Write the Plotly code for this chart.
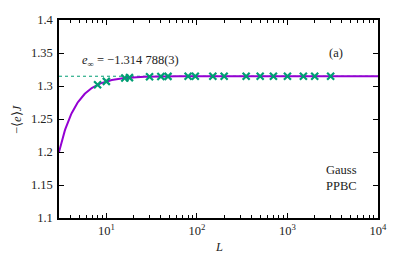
import numpy as np
import plotly.graph_objects as go

# Data
L_vals = [8, 10, 16, 18, 30, 40, 48, 80, 96, 150, 200, 350, 500, 700, 1000, 1500, 2000, 3000]
e_vals = [1.3019, 1.3070, 1.3120, 1.3127, 1.3141, 1.3144, 1.3146, 1.3147, 1.3147, 1.3148,
          1.3148, 1.3148, 1.3148, 1.3148, 1.3148, 1.3148, 1.3148, 1.3148]

# Fit curve parameters  e(L) = e_inf - a * L^(-p)
e_inf = 1.314788
fit_a = 1.33
fit_p = 2.23

x_tickvals = [10, 100, 1000, 10000]
x_ticktext = ["10<sup>1</sup>", "10<sup>2</sup>", "10<sup>3</sup>", "10<sup>4</sup>"]
y_tickvals = [1.1, 1.15, 1.2, 1.25, 1.3, 1.35, 1.4]
y_ticktext = ["1.1", "1.15", "1.2", "1.25", "1.3", "1.35", "1.4"]

FONT = "'Liberation Serif', 'Times New Roman', serif"
FS = 12.5
purple = "#9400d3"
green = "#009e73"

Lc = np.logspace(np.log10(3), 4, 400)
ec = e_inf - fit_a * Lc ** (-fit_p)

fig = go.Figure()
fig.add_trace(go.Scatter(x=[3, 10000], y=[e_inf, e_inf], mode="lines",
                         line=dict(color=green, width=1, dash="dot"), hoverinfo="skip"))
fig.add_trace(go.Scatter(x=Lc, y=ec, mode="lines", line=dict(color=purple, width=2)))
fig.add_trace(go.Scatter(x=L_vals, y=e_vals, mode="markers",
                         marker=dict(symbol="x-thin", size=7, line=dict(color=green, width=2.2))))

# page body has an 8px default margin, so the figure is sized to the visible area
fig.update_layout(
    width=387, height=249,
    margin=dict(l=51, r=17, t=5, b=39),
    paper_bgcolor="white", plot_bgcolor="white",
    showlegend=False,
    font=dict(family=FONT, size=FS, color="#222"),
)
fig.update_xaxes(type="log", range=[np.log10(3), 4],
                 tickvals=x_tickvals, ticktext=x_ticktext,
                 ticks="inside", ticklen=5, tickwidth=1, tickcolor="black",
                 showline=True, linecolor="black", linewidth=1.5, mirror="allticks",
                 showgrid=False, zeroline=False,
                 minor=dict(ticks="inside", ticklen=3, tickcolor="black", dtick="D1", showgrid=False),
                 tickfont=dict(family=FONT, size=FS))
fig.update_yaxes(range=[1.1, 1.4], tickvals=y_tickvals, ticktext=y_ticktext,
                 ticks="inside", ticklen=5, tickwidth=1, tickcolor="black",
                 showline=True, linecolor="black", linewidth=1.5, mirror="allticks",
                 showgrid=False, zeroline=False, ticklabelstandoff=2,
                 tickfont=dict(family=FONT, size=FS))

fig.add_annotation(x=0.5, y=-0.145, xref="paper", yref="paper", yanchor="middle",
                   text="<i>L</i>", showarrow=False, font=dict(family=FONT, size=FS))
fig.add_annotation(x=-0.16, y=0.5, xref="paper", yref="paper", textangle=-90,
                   text="−⟨<i>e</i>⟩<i>J</i>", showarrow=False, font=dict(family=FONT, size=FS))
fig.add_annotation(x=0.066, y=1.3375, xref="paper", yref="y", xanchor="left", yanchor="middle",
                   text="<i>e</i><sub>∞</sub> = −1.314 788(3)", showarrow=False,
                   font=dict(family=FONT, size=FS))
fig.add_annotation(x=0.895, y=0.88, xref="paper", yref="paper",
                   text="(a)", showarrow=False, font=dict(family=FONT, size=FS))
fig.add_annotation(x=0.94, y=0.115, xref="paper", yref="paper", xanchor="right", align="left",
                   text="Gauss<br>PPBC", showarrow=False, font=dict(family=FONT, size=FS))

fig.write_html("out.html")
